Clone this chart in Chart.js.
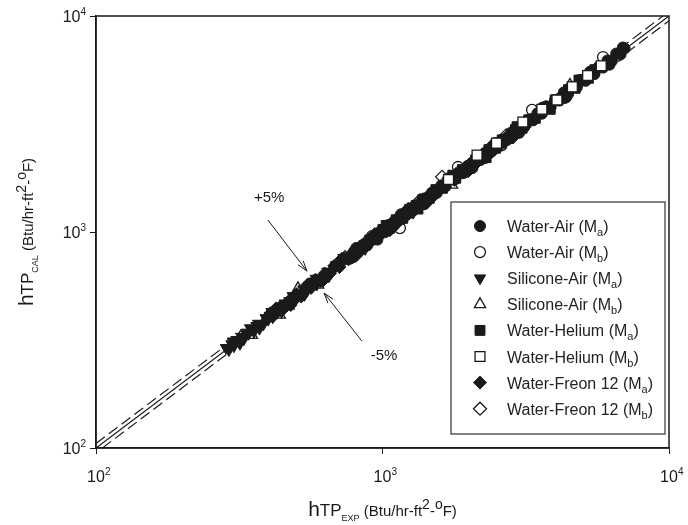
<!DOCTYPE html>
<html>
<head>
<meta charset="utf-8">
<script src="https://cdn.jsdelivr.net/npm/chart.js@4.4.1/dist/chart.umd.min.js"></script>
<style>
body { margin: 0; background: #fff; }
#wrap { width: 688px; height: 525px; }
</style>
</head>
<body>
<div id="wrap"><canvas id="chart" width="688" height="525"></canvas></div>
<script>
// pairs are [hTP_EXP, hTP_CAL], Btu/hr-ft2-F
var waterAirMa = [[742,757],[768,752],[796,814],[810,844],[824,809],[853,871],[884,866],[915,937],[948,927],[960,922],[982,1003],[1017,997],[1053,1079],[1091,1068],[1130,1152],[1160,1208],[1170,1148],[1212,1241],[1255,1229],[1300,1326],[1346,1321],[1394,1428],[1400,1345],[1444,1414],[1496,1527],[1549,1518],[1604,1644],[1662,1628],[1700,1771],[1721,1757],[1783,1748],[1846,1891],[1912,1873],[1981,2022],[2052,2011],[2060,1978],[2125,2177],[2201,2156],[2280,2327],[2361,2314],[2446,2505],[2480,2583],[2533,2483],[2624,2678],[2718,2664],[2815,2884],[2916,2857],[3000,2880],[3020,3083],[3128,3066],[3240,3318],[3356,3289],[3476,3548],[3600,3528],[3620,3770],[3729,3819],[3862,3785],[4000,4083],[4143,4060],[4291,4395],[4380,4205],[4445,4356],[4604,4700],[4768,4673],[4939,5058],[5116,5013],[5299,5409],[5300,5520],[5488,5378],[5685,5822],[5888,5770],[6099,6226],[6200,5950],[6317,6191],[6543,6701],[6777,6641],[6900,7150],[7000,7080]];
var waterAirMb = [[1150,1043],[1834,2000],[3327,3673],[5884,6457],[920,958],[1420,1390],[2600,2520],[4300,4420],[6600,6540],[780,760],[2150,2230]];
var siliconeAirMa = [[284,291],[291,284],[297,303],[300,312],[303,296],[309,317],[316,312],[318,304],[321,328],[328,319],[336,343],[341,338],[345,359],[349,357],[356,345],[363,368],[368,377],[372,357],[377,371],[384,374],[391,400],[399,393],[404,410],[410,427],[414,403],[422,433],[429,423],[439,446],[444,426],[448,436],[456,468],[463,457],[473,480],[482,469],[486,506],[491,503],[499,492],[511,520],[521,507],[529,544],[534,512],[543,531],[553,562],[562,552],[576,591],[585,609],[590,572],[601,612],[618,609],[642,657],[650,624],[663,648],[688,704],[717,702],[730,760],[742,754],[778,765],[823,841],[862,845],[870,836],[912,925],[958,945],[1024,1046],[1050,1092],[1088,1064],[1163,1181],[1237,1219],[1280,1230],[1318,1352],[1412,1384],[1498,1527]];
var siliconeAirMb = [[350,333],[438,413],[507,548],[596,569],[1748,1651],[4510,4795],[320,328],[395,405],[470,455],[2900,2990],[3800,3700]];
var waterHeliumMa = [[902,918],[951,938],[1003,1026],[1030,1073],[1058,1041],[1116,1139],[1177,1157],[1241,1270],[1309,1288],[1330,1277],[1381,1409],[1456,1433],[1536,1572],[1620,1594],[1709,1744],[1760,1833],[1802,1773],[1901,1946],[2005,1973],[2114,2158],[2230,2194],[2300,2209],[2352,2407],[2481,2441],[2616,2670],[2760,2716],[2911,2979],[2950,3072],[3070,3021],[3238,3305],[3415,3360],[3602,3686],[3799,3738],[3850,3697],[4007,4090],[4226,4158],[4457,4561],[4701,4626],[4850,5050],[4958,5061],[5229,5145],[5515,5644]];
var waterHeliumMb = [[2138,2270],[3090,3228],[4064,4083],[4600,4700],[5200,5300],[2500,2580],[3600,3700],[1700,1750],[5800,5880]];
var waterFreonMa = [[401,409],[417,411],[425,443],[436,446],[449,438],[468,475],[478,459],[486,477],[502,516],[523,512],[541,551],[548,571],[564,552],[584,601],[608,591],[620,596],[629,643],[656,644],[679,698],[707,688],[720,750],[734,748],[761,747],[793,812],[808,776],[822,803],[856,871],[887,870],[924,947],[940,979],[958,936],[997,1015],[1034,1014],[1060,1018],[1077,1104],[1117,1090],[1163,1186],[1207,1183],[1230,1281],[1257,1289],[1305,1274],[1359,1385],[1411,1383],[1440,1383],[1469,1505],[1526,1490],[1589,1621],[1651,1618],[1700,1770],[1719,1762],[1786,1744],[1860,1898],[1933,1895],[1990,1912],[2013,2062],[2093,2044],[2181,2226],[2271,2223],[2364,2421],[2400,2500],[2459,2402],[2563,2617],[2667,2611],[2780,2847],[2850,2737],[2894,2826],[3017,3081],[3139,3074]];
var waterFreonMb = [[1614,1800],[520,505],[740,765],[1100,1070],[1350,1400],[2050,2000],[2700,2800],[900,930]];

var legendNames = ['Water-Air', 'Water-Air', 'Silicone-Air', 'Silicone-Air', 'Water-Helium', 'Water-Helium', 'Water-Freon 12', 'Water-Freon 12'];
var legendSubs = ['a', 'b', 'a', 'b', 'a', 'b', 'a', 'b'];
var decadeTicks = [100, 1000, 10000];
var band = [1, 1.05, 0.95]; // y = x and the +/-5% lines

var FONT = '"Liberation Sans", Arial, Helvetica, sans-serif';
var INK = '#1a1a1a';

function pts(arr) {
    return arr.map(function (p) { return { x: p[0], y: p[1] }; });
}

function bandLine(f) {
    // runs corner to corner of the 100..10000 box
    var a = f >= 1 ? { x: 100, y: 100 * f } : { x: 100 / f, y: 100 };
    var b = f >= 1 ? { x: 10000 / f, y: 10000 } : { x: 10000, y: 10000 * f };
    return [a, b];
}

// order: open squares sit on top of the band, the other open marks underneath
var markers = [
    { data: waterAirMa, style: 'circle', r: 5.5, rot: 0, open: false, order: 2 },
    { data: waterAirMb, style: 'circle', r: 5.5, rot: 0, open: true, order: 4 },
    { data: siliconeAirMa, style: 'triangle', r: 6.5, rot: 180, open: false, order: 2 },
    { data: siliconeAirMb, style: 'triangle', r: 6.5, rot: 0, open: true, order: 4 },
    { data: waterHeliumMa, style: 'rect', r: 7, rot: 0, open: false, order: 2 },
    { data: waterHeliumMb, style: 'rect', r: 7, rot: 0, open: true, order: 1 },
    { data: waterFreonMa, style: 'rectRot', r: 6.5, rot: 0, open: false, order: 2 },
    { data: waterFreonMb, style: 'rectRot', r: 6.5, rot: 0, open: true, order: 4 }
];

var datasets = [];
band.forEach(function (f, i) {
    datasets.push({
        data: bandLine(f),
        showLine: true,
        pointRadius: 0,
        borderColor: INK,
        borderWidth: 1.2,
        borderDash: i === 0 ? [] : [11, 5],
        order: 5
    });
});
markers.forEach(function (m) {
    datasets.push({
        data: pts(m.data),
        pointStyle: m.style,
        pointRadius: m.r,
        pointRotation: m.rot,
        backgroundColor: m.open ? '#fff' : INK,
        borderColor: INK,
        borderWidth: m.open ? 1.3 : 1,
        order: m.order
    });
});

function drawRich(ctx, parts, x, y, align) {
    var w = 0;
    parts.forEach(function (p) {
        ctx.font = p[1] + 'px ' + FONT;
        w += ctx.measureText(p[0]).width;
    });
    var cx = align === 'center' ? x - w / 2 : (align === 'right' ? x - w : x);
    ctx.textAlign = 'left';
    ctx.textBaseline = 'alphabetic';
    parts.forEach(function (p) {
        ctx.font = p[1] + 'px ' + FONT;
        ctx.fillText(p[0], cx, y + p[2]);
        cx += ctx.measureText(p[0]).width;
    });
}

function arrow(ctx, x0, y0, x1, y1) {
    var ang = Math.atan2(y1 - y0, x1 - x0);
    ctx.beginPath();
    ctx.moveTo(x0, y0);
    ctx.lineTo(x1, y1);
    ctx.moveTo(x1 - 11 * Math.cos(ang - 0.3), y1 - 11 * Math.sin(ang - 0.3));
    ctx.lineTo(x1, y1);
    ctx.lineTo(x1 - 11 * Math.cos(ang + 0.3), y1 - 11 * Math.sin(ang + 0.3));
    ctx.stroke();
}

var titleTail = [[' (Btu/hr-ft', 15, 0], ['2', 14, -7], ['-', 15, 0], ['o', 14, -7], ['F)', 15, 0]];

var extras = {
    id: 'extras',
    afterDraw: function (chart) {
        var ctx = chart.ctx;
        var a = chart.chartArea;
        var xs = chart.scales.x, ys = chart.scales.y;
        ctx.save();

        // frame
        ctx.strokeStyle = INK;
        ctx.lineWidth = 1.5;
        ctx.strokeRect(a.left, a.top, a.right - a.left, a.bottom - a.top);

        ctx.fillStyle = INK;
        // tick labels
        decadeTicks.forEach(function (v) {
            var e = String(Math.round(Math.log10(v)));
            ctx.font = '16px ' + FONT;
            var w10 = ctx.measureText('10').width;
            var px = xs.getPixelForValue(v);
            drawRich(ctx, [['10', 16, 0], [e, 10, -7]], px - w10 / 2, a.bottom + 34, 'left');
            var py = ys.getPixelForValue(v);
            drawRich(ctx, [['10', 16, 0], [e, 10, -7]], a.left - 10, py + 6, 'right');
        });

        // axis titles
        drawRich(ctx, [['h', 21, 0], ['TP', 17, 0], ['EXP', 9, 5]].concat(titleTail),
            (a.left + a.right) / 2, 516, 'center');
        ctx.save();
        ctx.translate(33, (a.top + a.bottom) / 2);
        ctx.rotate(-Math.PI / 2);
        drawRich(ctx, [['h', 21, 0], ['TP', 17, 0], ['CAL', 9, 5]].concat(titleTail), 0, 0, 'center');
        ctx.restore();

        // +/-5% notes
        ctx.lineWidth = 1;
        arrow(ctx, xs.getPixelForValue(398), ys.getPixelForValue(1137), xs.getPixelForValue(545), ys.getPixelForValue(659));
        arrow(ctx, xs.getPixelForValue(847), ys.getPixelForValue(313), xs.getPixelForValue(625), ys.getPixelForValue(522));
        drawRich(ctx, [['+5%', 15, 0]], xs.getPixelForValue(402), ys.getPixelForValue(1468) + 6, 'center');
        drawRich(ctx, [['-5%', 15, 0]], xs.getPixelForValue(1012), ys.getPixelForValue(272) + 6, 'center');

        // legend
        var lx = 451, ly = 202, lw = 214, lh = 232;
        ctx.fillStyle = '#fff';
        ctx.fillRect(lx, ly, lw, lh);
        ctx.strokeStyle = '#333';
        ctx.lineWidth = 1.2;
        ctx.strokeRect(lx, ly, lw, lh);
        markers.forEach(function (m, i) {
            var y = ly + 24 + i * 26.1;
            ctx.fillStyle = m.open ? '#fff' : INK;
            ctx.strokeStyle = INK;
            ctx.lineWidth = m.open ? 1.3 : 1;
            Chart.helpers.drawPoint(ctx, {
                pointStyle: m.style, radius: m.r, rotation: m.rot,
                borderWidth: m.open ? 1.3 : 1
            }, lx + 29, y);
            ctx.fillStyle = '#222';
            drawRich(ctx, [[legendNames[i] + ' (M', 16, 0], [legendSubs[i], 11, 4], [')', 16, 0]], lx + 56, y + 6, 'left');
        });
        ctx.restore();
    }
};

new Chart(document.getElementById('chart'), {
    type: 'scatter',
    data: { datasets: datasets },
    options: {
        responsive: false,
        animation: false,
        layout: { padding: { top: 16, right: 19, left: 0, bottom: 0 } },
        plugins: { legend: { display: false }, tooltip: { enabled: false } },
        scales: {
            x: {
                type: 'logarithmic',
                min: 100,
                max: 10000,
                afterBuildTicks: function (s) { s.ticks = decadeTicks.map(function (v) { return { value: v }; }); },
                afterFit: function (s) { s.height = 77; },
                ticks: { display: false },
                grid: { drawOnChartArea: false, tickLength: 6, color: INK, lineWidth: 1 },
                border: { color: INK, width: 1.5 }
            },
            y: {
                type: 'logarithmic',
                min: 100,
                max: 10000,
                afterBuildTicks: function (s) { s.ticks = decadeTicks.map(function (v) { return { value: v }; }); },
                afterFit: function (s) { s.width = 96; },
                ticks: { display: false },
                grid: { drawOnChartArea: false, tickLength: 6, color: INK, lineWidth: 1 },
                border: { color: INK, width: 1.5 }
            }
        }
    },
    plugins: [extras]
});
</script>
</body>
</html>
